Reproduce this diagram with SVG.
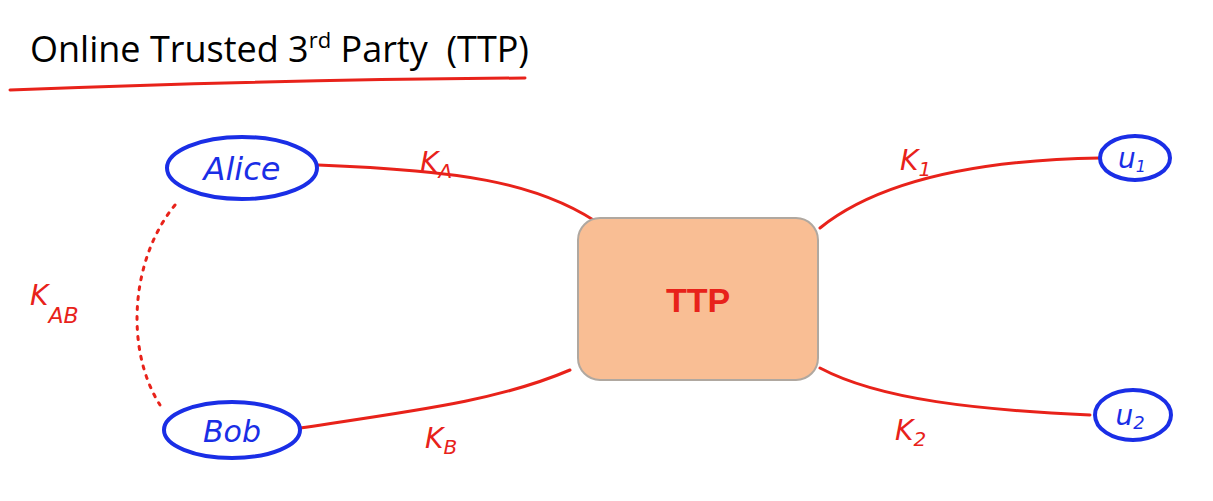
<svg xmlns="http://www.w3.org/2000/svg" width="1213" height="501" viewBox="0 0 1213 501">
<style>
.node{fill:none;stroke:#1a2ee6;stroke-width:4}
.hand{font-family:"DejaVu Sans",sans-serif;font-style:italic;fill:#1a2ee6}
.red{font-family:"DejaVu Sans",sans-serif;font-style:italic;fill:#e8221a;font-size:28px}
.link{fill:none;stroke:#e8221a;stroke-width:3;stroke-linecap:round}
</style>
<rect width="1213" height="501" fill="#fff"/>
<text x="30" y="62" font-family="Open Sans, sans-serif" font-size="36" fill="#000">Online Trusted 3<tspan font-size="22" dy="-14">rd</tspan><tspan dy="14"> Party &#160;(TTP)</tspan></text>
<path d="M10 90 Q260 80 525 78" class="link"/>
<g id="connectors">
<path class="link" d="M318 165 C450 170 540 180 605 228"/>
<path class="link" d="M820 228 C880 180 980 160 1100 158"/>
<path class="link" d="M300 428 C420 410 500 400 570 370"/>
<path class="link" d="M820 368 C880 400 980 410 1090 415"/>
<path class="link" stroke-dasharray="3 7" d="M175 205 C130 260 125 350 160 405"/>
<text class="red" x="420" y="172">K<tspan font-size="20" dy="6">A</tspan></text>
<text class="red" x="900" y="170">K<tspan font-size="20" dy="6">1</tspan></text>
<text class="red" x="425" y="448">K<tspan font-size="20" dy="6">B</tspan></text>
<text class="red" x="895" y="440">K<tspan font-size="20" dy="6">2</tspan></text>
<text class="red" x="30" y="305">K<tspan font-size="22" dy="18">AB</tspan></text>
</g>
<g id="alice"><ellipse class="node" cx="242" cy="168" rx="75" ry="31"/><text class="hand" x="242" y="180" font-size="32" text-anchor="middle">Alice</text></g>
<g id="bob"><ellipse class="node" cx="232" cy="430" rx="68" ry="28"/><text class="hand" x="232" y="442" font-size="30" text-anchor="middle">Bob</text></g>
<g id="u1"><ellipse class="node" cx="1135" cy="158" rx="35" ry="22"/><text class="hand" x="1132" y="168" font-size="28" text-anchor="middle">u<tspan font-size="16" dy="4">1</tspan></text></g>
<g id="u2"><ellipse class="node" cx="1133" cy="415" rx="38" ry="25"/><text class="hand" x="1130" y="425" font-size="28" text-anchor="middle">u<tspan font-size="18" dy="4">2</tspan></text></g>
<g id="ttp"><rect x="578" y="218" width="240" height="162" rx="22" fill="#f9be94" stroke="#b0a8a0" stroke-width="2"/><text x="698" y="312" font-family="Liberation Sans, sans-serif" font-weight="bold" font-size="34" fill="#e8221a" text-anchor="middle">TTP</text></g>
</svg>
